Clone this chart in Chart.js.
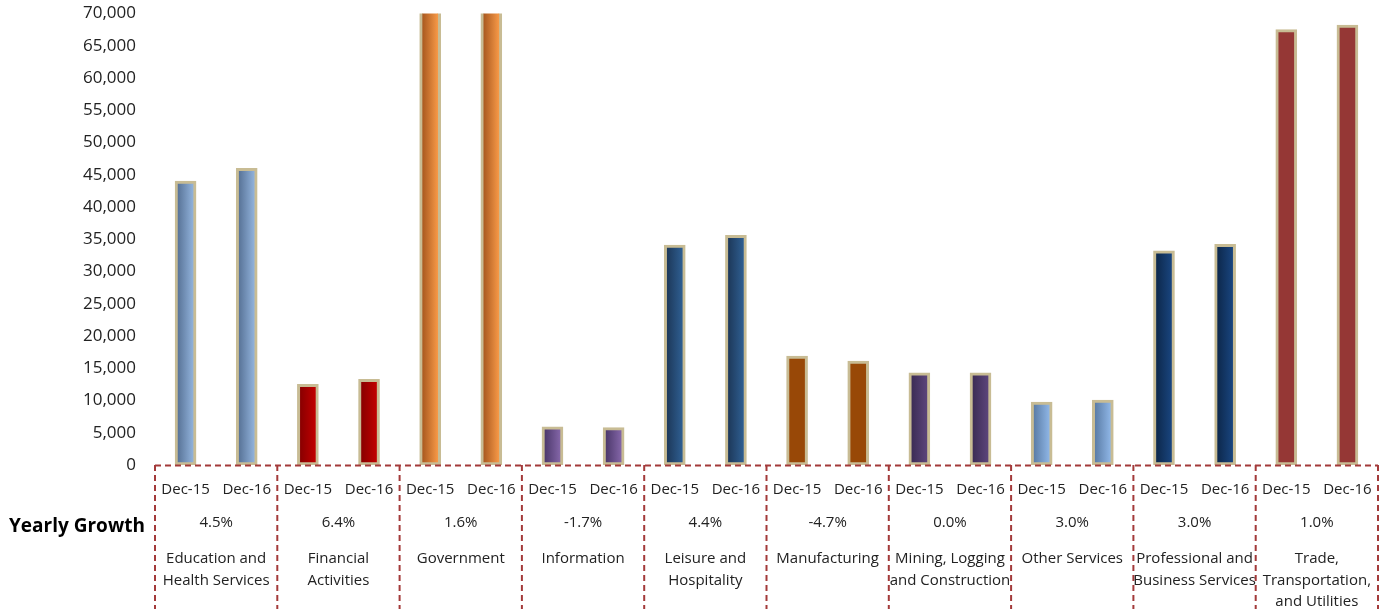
<!DOCTYPE html>
<html>
<head>
<meta charset="utf-8">
<script src="https://cdn.jsdelivr.net/npm/chart.js@4.4.1/dist/chart.umd.min.js"></script>
<style>
  html, body { margin: 0; padding: 0; background: #fff; }
  #wrap { width: 1385px; height: 609px; }
</style>
</head>
<body>
<div id="wrap"><canvas id="bar-chart" width="1385" height="609"></canvas></div>
<script>
// sectors (label lines as shown under the chart)
var categories = [
  ['Education and', 'Health Services'],
  ['Financial', 'Activities'],
  ['Government'],
  ['Information'],
  ['Leisure and', 'Hospitality'],
  ['Manufacturing'],
  ['Mining, Logging', 'and Construction'],
  ['Other Services'],
  ['Professional and', 'Business Services'],
  ['Trade,', 'Transportation,', 'and Utilities']
];
var periods = ['Dec-15', 'Dec-16'];
var dec15 = [44000, 12500, 73500, 5900, 34100, 16900, 14300, 9750, 33200, 67500];
var dec16 = [46000, 13300, 74700, 5800, 35600, 16100, 14300, 10050, 34200, 68200];
var growth = ['4.5%', '6.4%', '1.6%', '-1.7%', '4.4%', '-4.7%', '0.0%', '3.0%', '3.0%', '1.0%'];
var yTicks = { min: 0, max: 70000, step: 5000 };

var FONT = "'Open Sans', 'Noto Sans', sans-serif";

// dark edge / light edge of each sector's bar
var palette = [
  ['#587397', '#92b3dc'],
  ['#880000', '#c20000'],
  ['#a8581f', '#f89a48'],
  ['#4c386b', '#8466a8'],
  ['#1d3859', '#2f5f92'],
  ['#984807', '#984807'],
  ['#3c2c55', '#5c457b'],
  ['#5a7ca6', '#8fb6e6'],
  ['#0d284b', '#19457f'],
  ['#953735', '#953735']
];

// flatten into one bar per period
var labels = [], values = [];
for (var i = 0; i < categories.length; i++) {
  labels.push(periods[0], periods[1]);
  values.push(dec15[i], dec16[i]);
}

function barFill(ctx) {
  var chart = ctx.chart;
  var c = palette[Math.floor(ctx.dataIndex / 2)];
  if (!chart.chartArea || !chart.scales.x) return c[1];
  var x = chart.scales.x.getPixelForValue(ctx.dataIndex);
  var g = chart.ctx.createLinearGradient(x - 8, 0, x + 8, 0);
  g.addColorStop(0, c[0]);
  g.addColorStop(1, c[1]);
  return g;
}

// table under the axis: dashed frame, growth row, sector names
var tablePlugin = {
  id: 'growthTable',
  afterDraw: function(chart) {
    var ctx = chart.ctx;
    var area = chart.chartArea;
    var x = chart.scales.x;
    var slot = x.getPixelForValue(1) - x.getPixelForValue(0);
    var bottom = chart.height;

    ctx.save();
    ctx.strokeStyle = '#a33a3a';
    ctx.lineWidth = 2;
    ctx.setLineDash([6, 4]);
    ctx.beginPath();
    ctx.moveTo(area.left, area.bottom + 0.5);
    ctx.lineTo(area.right, area.bottom + 0.5);
    for (var k = 0; k <= categories.length; k++) {
      var bx = x.getPixelForValue(k * 2) - slot / 2;
      ctx.moveTo(bx, area.bottom);
      ctx.lineTo(bx, bottom);
    }
    ctx.stroke();
    ctx.setLineDash([]);

    ctx.fillStyle = '#222';
    ctx.textAlign = 'center';
    ctx.textBaseline = 'middle';
    ctx.font = '15px ' + FONT;
    for (var j = 0; j < categories.length; j++) {
      var cx = x.getPixelForValue(j * 2) + slot / 2;
      ctx.fillText(growth[j], cx, area.bottom + 58);
      var lines = categories[j];
      for (var l = 0; l < lines.length; l++) {
        ctx.fillText(lines[l], cx, area.bottom + 94 + l * 21.5);
      }
    }

    ctx.textAlign = 'left';
    ctx.font = 'bold 19px ' + FONT;
    ctx.fillStyle = '#000';
    ctx.fillText('Yearly Growth', 9, area.bottom + 62);
    ctx.restore();
  }
};

var chart = new Chart(document.getElementById('bar-chart'), {
  type: 'bar',
  data: {
    labels: labels,
    datasets: [{
      data: values,
      backgroundColor: barFill,
      borderColor: '#c8bc94',
      borderWidth: 3,
      barThickness: 21,
      borderSkipped: false
    }]
  },
  options: {
    responsive: false,
    animation: false,
    layout: { padding: { top: 13.5, right: 7, left: 0, bottom: 0 } },
    plugins: {
      legend: { display: false },
      tooltip: { enabled: false }
    },
    scales: {
      x: {
        grid: { display: false, drawTicks: false },
        border: { display: false },
        ticks: {
          autoSkip: false,
          maxRotation: 0,
          padding: 16,
          color: '#222',
          font: { family: FONT, size: 15 }
        },
        afterFit: function(s) {
          s.height = 144;
          s.paddingLeft = 0;
          s.paddingRight = 0;
        }
      },
      y: {
        min: yTicks.min,
        max: yTicks.max,
        grid: { display: false, drawTicks: false },
        border: { display: false },
        ticks: {
          stepSize: yTicks.step,
          padding: 19,
          color: '#222',
          font: { family: FONT, size: 17 },
          callback: function(v) { return v.toLocaleString('en-US'); }
        },
        afterFit: function(s) {
          s.width = 155;
          s.paddingTop = 0;
          s.paddingBottom = 0;
        }
      }
    }
  },
  plugins: [tablePlugin]
});
</script>
</body>
</html>
